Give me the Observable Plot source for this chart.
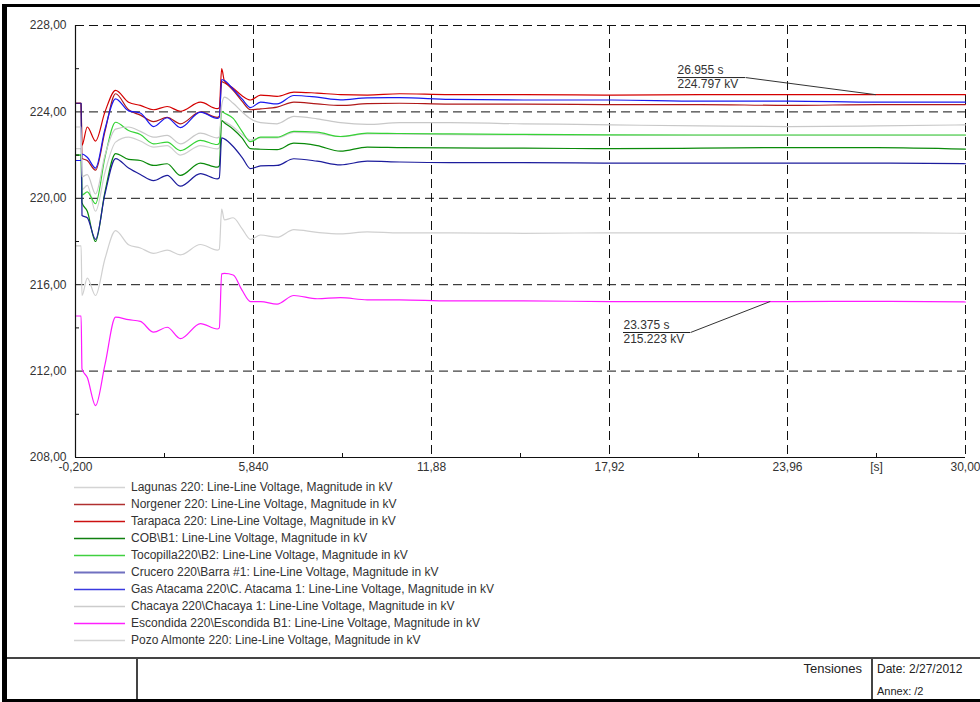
<!DOCTYPE html>
<html><head><meta charset="utf-8">
<script src="https://cdn.jsdelivr.net/npm/d3@7"></script>
<script src="https://cdn.jsdelivr.net/npm/@observablehq/plot@0.6"></script>
<style>
body{margin:0;background:#fff;}
#page{position:relative;width:980px;height:702px;overflow:hidden;font-family:Arial,"Liberation Sans",sans-serif;color:#333;}
#chart{position:absolute;left:0;top:0;}
.abs{position:absolute;}
.leg-row{position:absolute;left:0;height:17px;width:600px;}
.leg-sw{position:absolute;left:74px;top:0;}
.leg-tx{position:absolute;left:131px;top:0;font-size:12px;line-height:17px;white-space:nowrap;color:#333;}
.foot{font-family:"Liberation Sans Narrow","Arial Narrow",Arial,sans-serif;color:#222;white-space:nowrap;}
</style></head><body>
<div id="page">
  <div id="chart"></div>
  <div id="legend"></div>
  <div id="frame"></div>
</div>
<script>
// ---- data ----
const time = [-0.2, -0.01, 0.02, 0.2, 0.48, 0.8, 1.16, 1.6, 2.0, 2.45, 2.91, 3.36, 4.04, 4.61, 4.68, 4.76, 4.85, 5.15, 5.45, 5.74, 6.08, 6.64, 7.21, 8.0, 8.79, 9.7, 10.8, 12.5, 15, 18, 21, 24, 27, 30];

const lagunas = [222.3, 222.3, 220.4, 220.6, 219.4, 221.2, 222.6, 222.83, 222.65, 222.37, 222.44, 222.0, 222.44, 222.29, 222.35, 223.57, 223.55, 223.3, 222.95, 222.7, 222.8, 222.8, 223.05, 223.0, 222.85, 222.98, 222.97, 222.95, 222.93, 222.92, 222.92, 222.92, 222.92, 222.92];
const norgener = [224.4, 224.4, 221.85, 221.75, 221.3, 223.1, 224.84, 224.1, 223.85, 223.55, 223.75, 223.45, 224.0, 223.75, 223.8, 225.4, 225.35, 225.0, 224.5, 224.1, 224.14, 224.22, 224.45, 224.37, 224.3, 224.38, 224.4, 224.36, 224.36, 224.34, 224.34, 224.3, 224.34, 224.34];
const tarapaca = [224.4, 224.4, 222.45, 223.3, 222.65, 224.0, 225.0, 224.45, 224.3, 224.1, 224.25, 224.03, 224.45, 224.15, 224.2, 226.0, 225.45, 225.1, 224.75, 224.55, 224.78, 224.72, 224.92, 224.87, 224.8, 224.78, 224.84, 224.8, 224.8, 224.78, 224.8, 224.8, 224.8, 224.8];
const cob = [222.0, 222.0, 219.8, 219.4, 218.0, 220.3, 222.07, 221.8, 221.75, 221.52, 221.6, 221.06, 221.63, 221.44, 221.5, 223.6, 223.5, 223.2, 222.8, 222.3, 222.27, 222.25, 222.55, 222.44, 222.18, 222.37, 222.35, 222.33, 222.32, 222.3, 222.32, 222.35, 222.35, 222.28];
const tocopilla = [222.0, 222.0, 220.15, 220.3, 219.75, 221.9, 223.52, 223.14, 222.95, 222.52, 222.6, 222.21, 222.68, 222.49, 222.55, 224.03, 223.95, 223.7, 223.1, 222.62, 222.83, 222.83, 223.1, 223.06, 222.86, 223.02, 223.0, 222.98, 222.96, 222.94, 222.93, 222.93, 222.93, 222.93];
const crucero = [224.4, 224.4, 219.2, 219.1, 218.1, 220.2, 221.84, 221.4, 221.1, 220.82, 221.06, 220.56, 221.14, 220.9, 220.95, 222.8, 222.75, 222.4, 221.9, 221.37, 221.5, 221.52, 221.83, 221.72, 221.55, 221.72, 221.68, 221.65, 221.65, 221.63, 221.63, 221.63, 221.63, 221.6];
const gasAtacama = [221.75, 221.75, 222.05, 221.9, 221.4, 223.2, 224.6, 224.05, 223.95, 223.32, 223.73, 223.27, 223.99, 223.7, 223.75, 225.5, 225.45, 225.05, 224.6, 224.2, 224.45, 224.37, 224.76, 224.68, 224.56, 224.65, 224.66, 224.58, 224.55, 224.55, 224.5, 224.5, 224.45, 224.45];
const chacaya = [223.3, 223.3, 221.0, 221.1, 220.2, 222.0, 223.2, 223.3, 223.1, 222.83, 222.91, 222.52, 223.02, 222.8, 222.85, 224.3, 224.68, 224.4, 224.0, 223.68, 223.5, 223.45, 223.79, 223.68, 223.5, 223.42, 223.5, 223.5, 223.45, 223.4, 223.35, 223.32, 223.35, 223.4];
const escondida = [214.55, 214.55, 212.1, 211.7, 210.4, 212.3, 214.5, 214.38, 214.3, 213.8, 214.03, 213.5, 214.2, 213.95, 214.0, 216.5, 216.52, 216.45, 215.75, 215.22, 215.22, 215.1, 215.5, 215.35, 215.4, 215.3, 215.3, 215.25, 215.25, 215.22, 215.22, 215.22, 215.23, 215.2];
const pozoAlmonte = [217.8, 217.8, 215.5, 216.3, 215.5, 217.2, 218.5, 217.85, 217.7, 217.45, 217.6, 217.38, 217.86, 217.6, 217.65, 219.5, 219.0, 219.1, 218.6, 218.1, 218.3, 218.2, 218.55, 218.42, 218.35, 218.45, 218.4, 218.4, 218.38, 218.4, 218.4, 218.4, 218.4, 218.38];

const seriesNames = [
  "Lagunas 220: Line-Line Voltage, Magnitude in kV",
  "Norgener 220: Line-Line Voltage, Magnitude in kV",
  "Tarapaca 220: Line-Line Voltage, Magnitude in kV",
  "COB\\B1: Line-Line Voltage, Magnitude in kV",
  "Tocopilla220\\B2: Line-Line Voltage, Magnitude in kV",
  "Crucero 220\\Barra #1: Line-Line Voltage, Magnitude in kV",
  "Gas Atacama 220\\C. Atacama 1: Line-Line Voltage, Magnitude in kV",
  "Chacaya 220\\Chacaya 1: Line-Line Voltage, Magnitude in kV",
  "Escondida 220\\Escondida B1: Line-Line Voltage, Magnitude in kV",
  "Pozo Almonte 220: Line-Line Voltage, Magnitude in kV"
];
const seriesValues = [lagunas, norgener, tarapaca, cob, tocopilla, crucero, gasAtacama, chacaya, escondida, pozoAlmonte];
const seriesColors = ["#cfcfcf", "#b01818", "#d40000", "#0a8a0a", "#36d336", "#1c1c9c", "#1a1aee", "#c8c8c8", "#ff1aff", "#d0d0d0"];
const legendColors = ["#d4d4d4", "#b03030", "#cc1010", "#108010", "#40d040", "#7070c0", "#3a3ae0", "#cccccc", "#ff20ff", "#d4d4d4"];

const yTicks = [208, 212, 216, 220, 224, 228];
const yTickLabels = ["208,00", "212,00", "216,00", "220,00", "224,00", "228,00"];
const yMinorTicks = [210, 214, 218, 222, 226];
const yGrid = [212, 216, 220, 224, 228];
const xTicks = [-0.2, 5.84, 11.88, 17.92, 23.96, 30];
const xTickLabels = ["-0,200", "5,840", "11,88", "17,92", "23,96", "30,00"];
const xMinorTicks = [2.82, 8.86, 14.9, 20.94, 26.98];
const xUnitTicks = [26.98];
const xUnitLabel = "[s]";
const xGrid = [5.84, 11.88, 17.92, 23.96, 30];

const annotations = [
  {t: 26.955, v: 224.797, tLabel: 20.227, tEnd: 22.535, vLabel: 225.59, line1: "26.955 s", line2: "224.797 kV"},
  {t: 23.375, v: 215.223, tLabel: 18.395, tEnd: 20.669, vLabel: 213.787, line1: "23.375 s", line2: "215.223 kV"}
];

const footerTitle = "Tensiones";
const footerDate = "Date:  2/27/2012";
const footerAnnex = "Annex:  /2";

// ---- tidy table ----
const rows = [];
seriesValues.forEach((vals, i) => vals.forEach((v, j) => rows.push({t: time[j], v, name: seriesNames[i]})));

const chart = Plot.plot({
  width: 980, height: 480,
  marginLeft: 75, marginRight: 15, marginTop: 25, marginBottom: 23,
  x: {domain: [-0.2, 30]},
  y: {domain: [208, 228]},
  color: {domain: seriesNames, range: seriesColors},
  style: {fontFamily: "Arial, 'Liberation Sans', sans-serif", fontSize: "12px", color: "#333", background: "transparent", overflow: "visible"},
  marks: [
    Plot.ruleY(yGrid, {stroke: "#111", strokeDasharray: "9,5", strokeWidth: 1}),
    Plot.ruleX(xGrid, {stroke: "#111", strokeDasharray: "9,5", strokeWidth: 1}),
    Plot.lineY(rows, {x: "t", y: "v", z: "name", stroke: "name", strokeWidth: 1.2, curve: "monotone-x"}),
    Plot.ruleX([-0.2], {stroke: "#111", strokeWidth: 1.2}),
    Plot.ruleY([208], {stroke: "#111", strokeWidth: 1.2}),
    Plot.axisY({ticks: yTicks, tickFormat: d => yTickLabels[yTicks.indexOf(d)], tickSize: 0, tickPadding: 9, label: null, fill: "#333"}),
    Plot.axisY({ticks: yMinorTicks, tickFormat: () => "", tickSize: -4, label: null, stroke: "#111"}),
    Plot.axisX({ticks: xTicks, tickFormat: d => xTickLabels[xTicks.indexOf(d)], tickSize: 0, tickPadding: 5, label: null, fill: "#333"}),
    Plot.axisX({ticks: xMinorTicks, tickFormat: () => "", tickSize: -4, label: null, stroke: "#111"}),
    Plot.axisX({ticks: xUnitTicks, tickFormat: () => xUnitLabel, tickSize: 0, tickPadding: 5, label: null, fill: "#333"}),
    Plot.ruleY(annotations, {x1: "tLabel", x2: "tEnd", y: "vLabel", stroke: "#222", strokeWidth: 1}),
    Plot.link(annotations, {x1: "tEnd", y1: "vLabel", x2: "t", y2: "v", stroke: "#333", strokeWidth: 1}),
    Plot.text(annotations, {x: "tLabel", y: "vLabel", text: "line1", textAnchor: "start", dy: -7, fill: "#333", fontSize: 12}),
    Plot.text(annotations, {x: "tLabel", y: "vLabel", text: "line2", textAnchor: "start", dy: 7, fill: "#333", fontSize: 12})
  ]
});
document.getElementById("chart").appendChild(chart);

// ---- legend ----
const legend = document.getElementById("legend");
const svgNS = "http://www.w3.org/2000/svg";
seriesNames.forEach((name, i) => {
  const row = document.createElement("div");
  row.className = "leg-row";
  row.style.top = (479 + 17 * i) + "px";
  const sw = document.createElementNS(svgNS, "svg");
  sw.setAttribute("class", "leg-sw");
  sw.setAttribute("width", "52");
  sw.setAttribute("height", "17");
  const ln = document.createElementNS(svgNS, "line");
  ln.setAttribute("x1", "0"); ln.setAttribute("x2", "51");
  ln.setAttribute("y1", "8.5"); ln.setAttribute("y2", "8.5");
  ln.setAttribute("stroke", legendColors[i]);
  ln.setAttribute("stroke-width", i === 5 ? "2" : "1.3");
  sw.appendChild(ln);
  const tx = document.createElement("div");
  tx.className = "leg-tx";
  tx.textContent = name;
  row.appendChild(sw); row.appendChild(tx);
  legend.appendChild(row);
});

// ---- frame & footer ----
const frame = document.getElementById("frame");
function box(l, t, w, h, bg) {
  const d = document.createElement("div");
  d.className = "abs";
  Object.assign(d.style, {left: l + "px", top: t + "px", width: w + "px", height: h + "px", background: bg});
  frame.appendChild(d);
}
box(2, 4, 5, 698, "#000");      // left border
box(2, 4, 978, 3, "#000");      // top border
box(2, 699, 978, 3, "#000");    // bottom border
box(7, 657, 973, 2, "#444");    // footer top line
box(136, 657, 1.5, 42, "#444"); // footer divider 1
box(871, 657, 1.5, 42, "#444"); // footer divider 2
function txt(s, l, t, size, align) {
  const d = document.createElement("div");
  d.className = "abs foot";
  d.textContent = s;
  Object.assign(d.style, {top: t + "px", fontSize: size + "px", lineHeight: "14px"});
  if (align === "right") d.style.right = (980 - l) + "px"; else d.style.left = l + "px";
  frame.appendChild(d);
}
txt(footerTitle, 862, 662, 13, "right");
txt(footerDate, 877, 662, 12);
txt(footerAnnex, 877, 684, 11);
</script>
</body></html>
